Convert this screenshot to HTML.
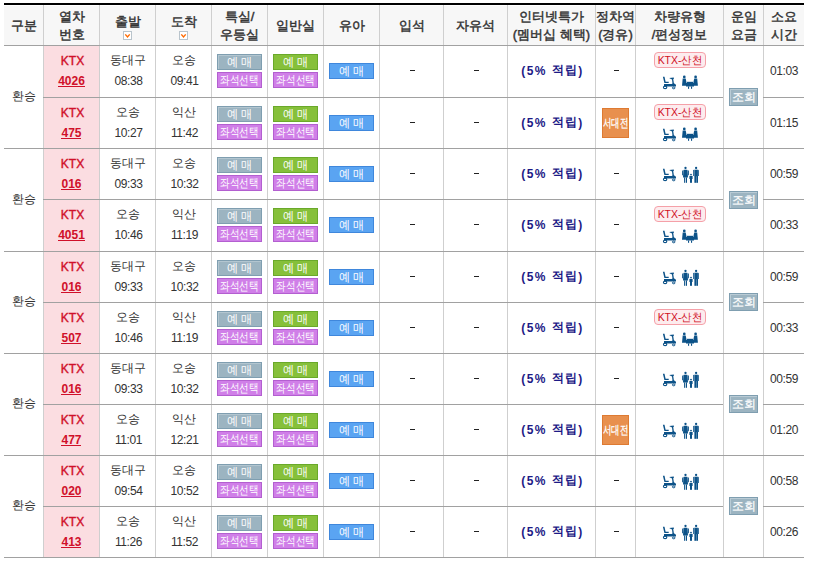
<!DOCTYPE html>
<html><head><meta charset="utf-8"><style>
*{margin:0;padding:0;box-sizing:border-box}
html,body{width:820px;height:566px;background:#fff;overflow:hidden}
body{font-family:"Liberation Sans",sans-serif;font-size:12px;color:#333;position:relative}
div,span{position:absolute}
.r{position:relative}
.t{text-align:center;white-space:nowrap;line-height:14px;height:14px}
.h{font-weight:normal;color:#333;font-size:13px;-webkit-text-stroke:0.45px #333}
.vl{width:1px;background:#cfcfcf}
.hl{height:1px;background:#a1a1a1}
.ktx{color:#d0102a;font-weight:normal;-webkit-text-stroke:0.4px #d0102a;letter-spacing:0px}
.num{color:#d0102a;font-weight:bold}
.ul{height:1px;background:#d0102a}
.tm{letter-spacing:-0.4px}
.b{width:45px;height:16px;border:1px solid}
.bt{left:-12px;right:-12px;top:0;color:#fff;font-size:12px;line-height:14px;text-align:center;white-space:nowrap}
.g{background:#9cb4c1;border-color:#7f9eb0;box-shadow:inset 1px 1px 0 #b3c6d0}
.gr{background:#86c03a;border-color:#6aa92a}
.pu{background:#d07fe8;border-color:#b35fd0}
.bl{background:#5aa4f2;border-color:#3f87dc}
.pt{color:#1c1a86;font-weight:bold;letter-spacing:1.4px}
.dash{width:5px;height:1px;background:#222}
.sc{width:52px;height:16px;border:1px solid #f5a0a8;background:#fdecee;border-radius:4px}
.sd{width:27px;height:30px;background:#e8904e;border:1px solid #de7a32}
.jh{width:29px;height:18px;background:#9cb4c1;border:1px solid #7f9eb0;box-shadow:inset 1px 1px 0 #b9cbd5}
</style></head><body>

<div style="left:4px;top:3px;width:800px;height:2px;background:#000"></div>
<div style="left:4px;top:6px;width:800px;height:39px;background:#f7f7f7"></div>
<div style="left:44px;top:46px;width:55px;height:511px;background:#fbdde1"></div>
<div class="vl" style="left:43px;top:5px;height:552px"></div>
<div class="vl" style="left:99px;top:5px;height:552px"></div>
<div class="vl" style="left:155px;top:5px;height:552px"></div>
<div class="vl" style="left:211px;top:5px;height:552px"></div>
<div class="vl" style="left:267px;top:5px;height:552px"></div>
<div class="vl" style="left:323px;top:5px;height:552px"></div>
<div class="vl" style="left:379px;top:5px;height:552px"></div>
<div class="vl" style="left:443px;top:5px;height:552px"></div>
<div class="vl" style="left:507px;top:5px;height:552px"></div>
<div class="vl" style="left:595px;top:5px;height:552px"></div>
<div class="vl" style="left:635px;top:5px;height:552px"></div>
<div class="vl" style="left:723px;top:5px;height:552px"></div>
<div class="vl" style="left:763px;top:5px;height:552px"></div>
<div class="hl" style="left:4px;top:45px;width:800px"></div>
<div class="hl" style="left:4px;top:557px;width:800px"></div>
<div class="hl" style="left:43px;top:97px;width:680px"></div>
<div class="hl" style="left:763px;top:97px;width:41px"></div>
<div class="hl" style="left:4px;top:148px;width:800px"></div>
<div class="hl" style="left:43px;top:199px;width:680px"></div>
<div class="hl" style="left:763px;top:199px;width:41px"></div>
<div class="hl" style="left:4px;top:251px;width:800px"></div>
<div class="hl" style="left:43px;top:302px;width:680px"></div>
<div class="hl" style="left:763px;top:302px;width:41px"></div>
<div class="hl" style="left:4px;top:353px;width:800px"></div>
<div class="hl" style="left:43px;top:404px;width:680px"></div>
<div class="hl" style="left:763px;top:404px;width:41px"></div>
<div class="hl" style="left:4px;top:455px;width:800px"></div>
<div class="hl" style="left:43px;top:506px;width:680px"></div>
<div class="hl" style="left:763px;top:506px;width:41px"></div>
<div class="t h" style="left:4px;top:19px;width:39px;">구분</div>
<div class="t h" style="left:44px;top:10px;width:55px;">열차</div>
<div class="t h" style="left:44px;top:28px;width:55px;">번호</div>
<div class="t h" style="left:100px;top:15px;width:55px;">출발</div>
<div style="left:123px;top:31px;width:9px;height:9px;line-height:0"><svg width="9" height="9" viewBox="0 0 9 9"><rect x="0.5" y="0.5" width="8" height="8" fill="#fff" stroke="#b9c4cc"/><path d="M2.3 3.4L4.5 6L6.7 3.4" fill="none" stroke="#ff6a00" stroke-width="1.4"/></svg></div>
<div class="t h" style="left:156px;top:15px;width:55px;">도착</div>
<div style="left:179px;top:31px;width:9px;height:9px;line-height:0"><svg width="9" height="9" viewBox="0 0 9 9"><rect x="0.5" y="0.5" width="8" height="8" fill="#fff" stroke="#b9c4cc"/><path d="M2.3 3.4L4.5 6L6.7 3.4" fill="none" stroke="#ff6a00" stroke-width="1.4"/></svg></div>
<div class="t h" style="left:212px;top:10px;width:55px;">특실/</div>
<div class="t h" style="left:212px;top:28px;width:55px;">우등실</div>
<div class="t h" style="left:268px;top:19px;width:55px;">일반실</div>
<div class="t h" style="left:324px;top:19px;width:55px;">유아</div>
<div class="t h" style="left:380px;top:19px;width:63px;">입석</div>
<div class="t h" style="left:444px;top:19px;width:63px;">자유석</div>
<div class="t h" style="left:508px;top:10px;width:87px;">인터넷특가</div>
<div class="t h" style="left:508px;top:28px;width:87px;">(멤버십 혜택)</div>
<div class="t h" style="left:596px;top:10px;width:39px;">정차역</div>
<div class="t h" style="left:596px;top:28px;width:39px;">(경유)</div>
<div class="t h" style="left:636px;top:10px;width:87px;">차량유형</div>
<div class="t h" style="left:636px;top:28px;width:87px;">/편성정보</div>
<div class="t h" style="left:724px;top:10px;width:39px;">운임</div>
<div class="t h" style="left:724px;top:28px;width:39px;">요금</div>
<div class="t h" style="left:764px;top:10px;width:40px;">소요</div>
<div class="t h" style="left:764px;top:28px;width:40px;">시간</div>
<div class="t " style="left:4px;top:89px;width:39px;">환승</div>
<div class="jh" style="left:729px;top:88px"><span class="bt" style="font-size:12px;line-height:17px;-webkit-text-stroke:0.2px #fff">조회</span></div>
<div class="t ktx" style="left:45px;top:54px;width:55px;">KTX</div>
<div class="t num" style="left:44px;top:74px;width:55px;">4026</div>
<div class="ul" style="left:58px;top:86px;width:27px"></div>
<div class="t " style="left:100px;top:53px;width:55px;">동대구</div>
<div class="t tm" style="left:101px;top:74px;width:55px;">08:38</div>
<div class="t " style="left:156px;top:53px;width:55px;">오송</div>
<div class="t tm" style="left:157px;top:74px;width:55px;">09:41</div>
<div class="b g" style="left:217px;top:54px"><span class="bt" style="transform:scaleX(0.93)">예 매</span></div>
<div class="b pu" style="left:217px;top:72px"><span class="bt" style="transform:scaleX(0.8)">좌석선택</span></div>
<div class="b gr" style="left:273px;top:54px"><span class="bt" style="transform:scaleX(0.93)">예 매</span></div>
<div class="b pu" style="left:273px;top:72px"><span class="bt" style="transform:scaleX(0.8)">좌석선택</span></div>
<div class="b bl" style="left:329px;top:63px"><span class="bt" style="transform:scaleX(0.93)">예 매</span></div>
<div class="dash" style="left:410px;top:70px"></div>
<div class="dash" style="left:474px;top:70px"></div>
<div class="t pt" style="left:509px;top:64px;width:87px;">(5% <span class="r" style="top:-1px">적립</span>)</div>
<div class="dash" style="left:614px;top:70px"></div>
<div class="sc" style="left:654px;top:52px"><span class="bt" style="color:#d00f1e;line-height:14px;font-size:11px;transform:scaleX(0.95)">KTX-산천</span></div>
<div style="left:660px;top:74px;width:20px;height:17px;line-height:0"><svg width="20" height="17" viewBox="0 0 20 17"><g fill="#0c5288"><path d="M2.9,2.8 L4.5,2.8 L5.6,7.8 L8.7,7.8 L8.7,9.1 L4.4,9.1 Z"/><path d="M4,10.1 H11.6 Q12.6,10.1 12.9,9.3 L14.3,9.4 Q15.9,9.8 16,11.2 V12.6 H4 Z"/><path d="M11.9,5 L13.2,5 L14,10 L12.6,10 Z"/><path d="M9.2,4 L13.8,3.4 L13.8,5.1 L11.4,5.3 Z"/></g><g fill="none" stroke="#0c5288"><ellipse cx="5.1" cy="13.4" rx="1.7" ry="1.25" stroke-width="1.1"/><ellipse cx="13.7" cy="13.9" rx="1.3" ry="0.9" stroke-width="1"/></g></svg></div>
<div style="left:680px;top:74px;width:20px;height:17px;line-height:0"><svg width="20" height="17" viewBox="0 0 20 17"><g fill="#0c5288"><circle cx="4.3" cy="2.9" r="1.35"/><circle cx="15.6" cy="2.9" r="1.35"/><path d="M2.7,4.6 H5.7 L6.6,9 V11.7 H2 Z"/><path d="M17.2,4.6 H14.2 L13.3,9 V11.7 H17.9 Z"/><path d="M7,7.8 H13 V9 H7 Z"/><path d="M6,9 H14 V12.5 H6 Z"/><rect x="8" y="12.5" width="1.1" height="2.3"/><rect x="11" y="12.5" width="1.1" height="2.3"/></g></svg></div>
<div class="t tm" style="left:764px;top:64px;width:40px;">01:03</div>
<div class="t ktx" style="left:45px;top:106px;width:55px;">KTX</div>
<div class="t num" style="left:44px;top:126px;width:55px;">475</div>
<div class="ul" style="left:61px;top:138px;width:20px"></div>
<div class="t " style="left:100px;top:105px;width:55px;">오송</div>
<div class="t tm" style="left:101px;top:126px;width:55px;">10:27</div>
<div class="t " style="left:156px;top:105px;width:55px;">익산</div>
<div class="t tm" style="left:157px;top:126px;width:55px;">11:42</div>
<div class="b g" style="left:217px;top:106px"><span class="bt" style="transform:scaleX(0.93)">예 매</span></div>
<div class="b pu" style="left:217px;top:124px"><span class="bt" style="transform:scaleX(0.8)">좌석선택</span></div>
<div class="b gr" style="left:273px;top:106px"><span class="bt" style="transform:scaleX(0.93)">예 매</span></div>
<div class="b pu" style="left:273px;top:124px"><span class="bt" style="transform:scaleX(0.8)">좌석선택</span></div>
<div class="b bl" style="left:329px;top:115px"><span class="bt" style="transform:scaleX(0.93)">예 매</span></div>
<div class="dash" style="left:410px;top:122px"></div>
<div class="dash" style="left:474px;top:122px"></div>
<div class="t pt" style="left:509px;top:116px;width:87px;">(5% <span class="r" style="top:-1px">적립</span>)</div>
<div class="sd" style="left:602px;top:108px"><span class="bt" style="font-size:12px;line-height:28px;transform:scaleX(0.7);-webkit-text-stroke:0.3px #fff">서대전</span></div>
<div class="sc" style="left:654px;top:104px"><span class="bt" style="color:#d00f1e;line-height:14px;font-size:11px;transform:scaleX(0.95)">KTX-산천</span></div>
<div style="left:660px;top:126px;width:20px;height:17px;line-height:0"><svg width="20" height="17" viewBox="0 0 20 17"><g fill="#0c5288"><path d="M2.9,2.8 L4.5,2.8 L5.6,7.8 L8.7,7.8 L8.7,9.1 L4.4,9.1 Z"/><path d="M4,10.1 H11.6 Q12.6,10.1 12.9,9.3 L14.3,9.4 Q15.9,9.8 16,11.2 V12.6 H4 Z"/><path d="M11.9,5 L13.2,5 L14,10 L12.6,10 Z"/><path d="M9.2,4 L13.8,3.4 L13.8,5.1 L11.4,5.3 Z"/></g><g fill="none" stroke="#0c5288"><ellipse cx="5.1" cy="13.4" rx="1.7" ry="1.25" stroke-width="1.1"/><ellipse cx="13.7" cy="13.9" rx="1.3" ry="0.9" stroke-width="1"/></g></svg></div>
<div style="left:680px;top:126px;width:20px;height:17px;line-height:0"><svg width="20" height="17" viewBox="0 0 20 17"><g fill="#0c5288"><circle cx="4.3" cy="2.9" r="1.35"/><circle cx="15.6" cy="2.9" r="1.35"/><path d="M2.7,4.6 H5.7 L6.6,9 V11.7 H2 Z"/><path d="M17.2,4.6 H14.2 L13.3,9 V11.7 H17.9 Z"/><path d="M7,7.8 H13 V9 H7 Z"/><path d="M6,9 H14 V12.5 H6 Z"/><rect x="8" y="12.5" width="1.1" height="2.3"/><rect x="11" y="12.5" width="1.1" height="2.3"/></g></svg></div>
<div class="t tm" style="left:764px;top:116px;width:40px;">01:15</div>
<div class="t " style="left:4px;top:192px;width:39px;">환승</div>
<div class="jh" style="left:729px;top:191px"><span class="bt" style="font-size:12px;line-height:17px;-webkit-text-stroke:0.2px #fff">조회</span></div>
<div class="t ktx" style="left:45px;top:157px;width:55px;">KTX</div>
<div class="t num" style="left:44px;top:177px;width:55px;">016</div>
<div class="ul" style="left:61px;top:189px;width:20px"></div>
<div class="t " style="left:100px;top:156px;width:55px;">동대구</div>
<div class="t tm" style="left:101px;top:177px;width:55px;">09:33</div>
<div class="t " style="left:156px;top:156px;width:55px;">오송</div>
<div class="t tm" style="left:157px;top:177px;width:55px;">10:32</div>
<div class="b g" style="left:217px;top:157px"><span class="bt" style="transform:scaleX(0.93)">예 매</span></div>
<div class="b pu" style="left:217px;top:175px"><span class="bt" style="transform:scaleX(0.8)">좌석선택</span></div>
<div class="b gr" style="left:273px;top:157px"><span class="bt" style="transform:scaleX(0.93)">예 매</span></div>
<div class="b pu" style="left:273px;top:175px"><span class="bt" style="transform:scaleX(0.8)">좌석선택</span></div>
<div class="b bl" style="left:329px;top:166px"><span class="bt" style="transform:scaleX(0.93)">예 매</span></div>
<div class="dash" style="left:410px;top:173px"></div>
<div class="dash" style="left:474px;top:173px"></div>
<div class="t pt" style="left:509px;top:167px;width:87px;">(5% <span class="r" style="top:-1px">적립</span>)</div>
<div class="dash" style="left:614px;top:173px"></div>
<div style="left:660px;top:166px;width:20px;height:17px;line-height:0"><svg width="20" height="17" viewBox="0 0 20 17"><g fill="#0c5288"><path d="M2.9,2.8 L4.5,2.8 L5.6,7.8 L8.7,7.8 L8.7,9.1 L4.4,9.1 Z"/><path d="M4,10.1 H11.6 Q12.6,10.1 12.9,9.3 L14.3,9.4 Q15.9,9.8 16,11.2 V12.6 H4 Z"/><path d="M11.9,5 L13.2,5 L14,10 L12.6,10 Z"/><path d="M9.2,4 L13.8,3.4 L13.8,5.1 L11.4,5.3 Z"/></g><g fill="none" stroke="#0c5288"><ellipse cx="5.1" cy="13.4" rx="1.7" ry="1.25" stroke-width="1.1"/><ellipse cx="13.7" cy="13.9" rx="1.3" ry="0.9" stroke-width="1"/></g></svg></div>
<div style="left:680px;top:165px;width:22px;height:20px;line-height:0"><svg width="22" height="20" viewBox="0 0 22 20"><g fill="#0c5288"><circle cx="5.5" cy="3" r="1.15"/><path d="M4,4.8 H7 Q7.6,4.8 7.6,5.6 L8,12.5 H3 L3.4,5.6 Q3.4,4.8 4,4.8 Z"/><path d="M2.2,6 Q2.4,5.2 3.1,5.2 L2.9,10.2 H2 Z"/><path d="M8.9,6 Q8.7,5.2 8,5.2 L8.2,10.2 H9.1 Z"/><rect x="4.1" y="12.4" width="1.1" height="5.4"/><rect x="5.9" y="12.4" width="1.1" height="5.4"/><circle cx="11" cy="9.6" r="0.9"/><rect x="9.4" y="10.9" width="3.2" height="3.2" rx="0.5"/><rect x="10" y="14" width="2" height="3.8"/><circle cx="16.1" cy="3" r="1.15"/><path d="M14.3,4.7 H17.9 V11.2 H14.3 Z"/><path d="M13.2,5.6 Q13.2,4.8 14,4.8 V11 H13.2 Z"/><path d="M19,5.6 Q19,4.8 18.2,4.8 V11 H19 Z"/><rect x="14.4" y="11" width="1.7" height="6.8"/><rect x="16.3" y="11" width="1.7" height="6.8"/></g></svg></div>
<div class="t tm" style="left:764px;top:167px;width:40px;">00:59</div>
<div class="t ktx" style="left:45px;top:208px;width:55px;">KTX</div>
<div class="t num" style="left:44px;top:228px;width:55px;">4051</div>
<div class="ul" style="left:58px;top:240px;width:27px"></div>
<div class="t " style="left:100px;top:207px;width:55px;">오송</div>
<div class="t tm" style="left:101px;top:228px;width:55px;">10:46</div>
<div class="t " style="left:156px;top:207px;width:55px;">익산</div>
<div class="t tm" style="left:157px;top:228px;width:55px;">11:19</div>
<div class="b g" style="left:217px;top:208px"><span class="bt" style="transform:scaleX(0.93)">예 매</span></div>
<div class="b pu" style="left:217px;top:226px"><span class="bt" style="transform:scaleX(0.8)">좌석선택</span></div>
<div class="b gr" style="left:273px;top:208px"><span class="bt" style="transform:scaleX(0.93)">예 매</span></div>
<div class="b pu" style="left:273px;top:226px"><span class="bt" style="transform:scaleX(0.8)">좌석선택</span></div>
<div class="b bl" style="left:329px;top:217px"><span class="bt" style="transform:scaleX(0.93)">예 매</span></div>
<div class="dash" style="left:410px;top:224px"></div>
<div class="dash" style="left:474px;top:224px"></div>
<div class="t pt" style="left:509px;top:218px;width:87px;">(5% <span class="r" style="top:-1px">적립</span>)</div>
<div class="dash" style="left:614px;top:224px"></div>
<div class="sc" style="left:654px;top:206px"><span class="bt" style="color:#d00f1e;line-height:14px;font-size:11px;transform:scaleX(0.95)">KTX-산천</span></div>
<div style="left:660px;top:228px;width:20px;height:17px;line-height:0"><svg width="20" height="17" viewBox="0 0 20 17"><g fill="#0c5288"><path d="M2.9,2.8 L4.5,2.8 L5.6,7.8 L8.7,7.8 L8.7,9.1 L4.4,9.1 Z"/><path d="M4,10.1 H11.6 Q12.6,10.1 12.9,9.3 L14.3,9.4 Q15.9,9.8 16,11.2 V12.6 H4 Z"/><path d="M11.9,5 L13.2,5 L14,10 L12.6,10 Z"/><path d="M9.2,4 L13.8,3.4 L13.8,5.1 L11.4,5.3 Z"/></g><g fill="none" stroke="#0c5288"><ellipse cx="5.1" cy="13.4" rx="1.7" ry="1.25" stroke-width="1.1"/><ellipse cx="13.7" cy="13.9" rx="1.3" ry="0.9" stroke-width="1"/></g></svg></div>
<div style="left:680px;top:228px;width:20px;height:17px;line-height:0"><svg width="20" height="17" viewBox="0 0 20 17"><g fill="#0c5288"><circle cx="4.3" cy="2.9" r="1.35"/><circle cx="15.6" cy="2.9" r="1.35"/><path d="M2.7,4.6 H5.7 L6.6,9 V11.7 H2 Z"/><path d="M17.2,4.6 H14.2 L13.3,9 V11.7 H17.9 Z"/><path d="M7,7.8 H13 V9 H7 Z"/><path d="M6,9 H14 V12.5 H6 Z"/><rect x="8" y="12.5" width="1.1" height="2.3"/><rect x="11" y="12.5" width="1.1" height="2.3"/></g></svg></div>
<div class="t tm" style="left:764px;top:218px;width:40px;">00:33</div>
<div class="t " style="left:4px;top:294px;width:39px;">환승</div>
<div class="jh" style="left:729px;top:293px"><span class="bt" style="font-size:12px;line-height:17px;-webkit-text-stroke:0.2px #fff">조회</span></div>
<div class="t ktx" style="left:45px;top:260px;width:55px;">KTX</div>
<div class="t num" style="left:44px;top:280px;width:55px;">016</div>
<div class="ul" style="left:61px;top:292px;width:20px"></div>
<div class="t " style="left:100px;top:259px;width:55px;">동대구</div>
<div class="t tm" style="left:101px;top:280px;width:55px;">09:33</div>
<div class="t " style="left:156px;top:259px;width:55px;">오송</div>
<div class="t tm" style="left:157px;top:280px;width:55px;">10:32</div>
<div class="b g" style="left:217px;top:260px"><span class="bt" style="transform:scaleX(0.93)">예 매</span></div>
<div class="b pu" style="left:217px;top:278px"><span class="bt" style="transform:scaleX(0.8)">좌석선택</span></div>
<div class="b gr" style="left:273px;top:260px"><span class="bt" style="transform:scaleX(0.93)">예 매</span></div>
<div class="b pu" style="left:273px;top:278px"><span class="bt" style="transform:scaleX(0.8)">좌석선택</span></div>
<div class="b bl" style="left:329px;top:269px"><span class="bt" style="transform:scaleX(0.93)">예 매</span></div>
<div class="dash" style="left:410px;top:276px"></div>
<div class="dash" style="left:474px;top:276px"></div>
<div class="t pt" style="left:509px;top:270px;width:87px;">(5% <span class="r" style="top:-1px">적립</span>)</div>
<div class="dash" style="left:614px;top:276px"></div>
<div style="left:660px;top:269px;width:20px;height:17px;line-height:0"><svg width="20" height="17" viewBox="0 0 20 17"><g fill="#0c5288"><path d="M2.9,2.8 L4.5,2.8 L5.6,7.8 L8.7,7.8 L8.7,9.1 L4.4,9.1 Z"/><path d="M4,10.1 H11.6 Q12.6,10.1 12.9,9.3 L14.3,9.4 Q15.9,9.8 16,11.2 V12.6 H4 Z"/><path d="M11.9,5 L13.2,5 L14,10 L12.6,10 Z"/><path d="M9.2,4 L13.8,3.4 L13.8,5.1 L11.4,5.3 Z"/></g><g fill="none" stroke="#0c5288"><ellipse cx="5.1" cy="13.4" rx="1.7" ry="1.25" stroke-width="1.1"/><ellipse cx="13.7" cy="13.9" rx="1.3" ry="0.9" stroke-width="1"/></g></svg></div>
<div style="left:680px;top:268px;width:22px;height:20px;line-height:0"><svg width="22" height="20" viewBox="0 0 22 20"><g fill="#0c5288"><circle cx="5.5" cy="3" r="1.15"/><path d="M4,4.8 H7 Q7.6,4.8 7.6,5.6 L8,12.5 H3 L3.4,5.6 Q3.4,4.8 4,4.8 Z"/><path d="M2.2,6 Q2.4,5.2 3.1,5.2 L2.9,10.2 H2 Z"/><path d="M8.9,6 Q8.7,5.2 8,5.2 L8.2,10.2 H9.1 Z"/><rect x="4.1" y="12.4" width="1.1" height="5.4"/><rect x="5.9" y="12.4" width="1.1" height="5.4"/><circle cx="11" cy="9.6" r="0.9"/><rect x="9.4" y="10.9" width="3.2" height="3.2" rx="0.5"/><rect x="10" y="14" width="2" height="3.8"/><circle cx="16.1" cy="3" r="1.15"/><path d="M14.3,4.7 H17.9 V11.2 H14.3 Z"/><path d="M13.2,5.6 Q13.2,4.8 14,4.8 V11 H13.2 Z"/><path d="M19,5.6 Q19,4.8 18.2,4.8 V11 H19 Z"/><rect x="14.4" y="11" width="1.7" height="6.8"/><rect x="16.3" y="11" width="1.7" height="6.8"/></g></svg></div>
<div class="t tm" style="left:764px;top:270px;width:40px;">00:59</div>
<div class="t ktx" style="left:45px;top:311px;width:55px;">KTX</div>
<div class="t num" style="left:44px;top:331px;width:55px;">507</div>
<div class="ul" style="left:61px;top:343px;width:20px"></div>
<div class="t " style="left:100px;top:310px;width:55px;">오송</div>
<div class="t tm" style="left:101px;top:331px;width:55px;">10:46</div>
<div class="t " style="left:156px;top:310px;width:55px;">익산</div>
<div class="t tm" style="left:157px;top:331px;width:55px;">11:19</div>
<div class="b g" style="left:217px;top:311px"><span class="bt" style="transform:scaleX(0.93)">예 매</span></div>
<div class="b pu" style="left:217px;top:329px"><span class="bt" style="transform:scaleX(0.8)">좌석선택</span></div>
<div class="b gr" style="left:273px;top:311px"><span class="bt" style="transform:scaleX(0.93)">예 매</span></div>
<div class="b pu" style="left:273px;top:329px"><span class="bt" style="transform:scaleX(0.8)">좌석선택</span></div>
<div class="b bl" style="left:329px;top:320px"><span class="bt" style="transform:scaleX(0.93)">예 매</span></div>
<div class="dash" style="left:410px;top:327px"></div>
<div class="dash" style="left:474px;top:327px"></div>
<div class="t pt" style="left:509px;top:321px;width:87px;">(5% <span class="r" style="top:-1px">적립</span>)</div>
<div class="dash" style="left:614px;top:327px"></div>
<div class="sc" style="left:654px;top:309px"><span class="bt" style="color:#d00f1e;line-height:14px;font-size:11px;transform:scaleX(0.95)">KTX-산천</span></div>
<div style="left:660px;top:331px;width:20px;height:17px;line-height:0"><svg width="20" height="17" viewBox="0 0 20 17"><g fill="#0c5288"><path d="M2.9,2.8 L4.5,2.8 L5.6,7.8 L8.7,7.8 L8.7,9.1 L4.4,9.1 Z"/><path d="M4,10.1 H11.6 Q12.6,10.1 12.9,9.3 L14.3,9.4 Q15.9,9.8 16,11.2 V12.6 H4 Z"/><path d="M11.9,5 L13.2,5 L14,10 L12.6,10 Z"/><path d="M9.2,4 L13.8,3.4 L13.8,5.1 L11.4,5.3 Z"/></g><g fill="none" stroke="#0c5288"><ellipse cx="5.1" cy="13.4" rx="1.7" ry="1.25" stroke-width="1.1"/><ellipse cx="13.7" cy="13.9" rx="1.3" ry="0.9" stroke-width="1"/></g></svg></div>
<div style="left:680px;top:331px;width:20px;height:17px;line-height:0"><svg width="20" height="17" viewBox="0 0 20 17"><g fill="#0c5288"><circle cx="4.3" cy="2.9" r="1.35"/><circle cx="15.6" cy="2.9" r="1.35"/><path d="M2.7,4.6 H5.7 L6.6,9 V11.7 H2 Z"/><path d="M17.2,4.6 H14.2 L13.3,9 V11.7 H17.9 Z"/><path d="M7,7.8 H13 V9 H7 Z"/><path d="M6,9 H14 V12.5 H6 Z"/><rect x="8" y="12.5" width="1.1" height="2.3"/><rect x="11" y="12.5" width="1.1" height="2.3"/></g></svg></div>
<div class="t tm" style="left:764px;top:321px;width:40px;">00:33</div>
<div class="t " style="left:4px;top:396px;width:39px;">환승</div>
<div class="jh" style="left:729px;top:395px"><span class="bt" style="font-size:12px;line-height:17px;-webkit-text-stroke:0.2px #fff">조회</span></div>
<div class="t ktx" style="left:45px;top:362px;width:55px;">KTX</div>
<div class="t num" style="left:44px;top:382px;width:55px;">016</div>
<div class="ul" style="left:61px;top:394px;width:20px"></div>
<div class="t " style="left:100px;top:361px;width:55px;">동대구</div>
<div class="t tm" style="left:101px;top:382px;width:55px;">09:33</div>
<div class="t " style="left:156px;top:361px;width:55px;">오송</div>
<div class="t tm" style="left:157px;top:382px;width:55px;">10:32</div>
<div class="b g" style="left:217px;top:362px"><span class="bt" style="transform:scaleX(0.93)">예 매</span></div>
<div class="b pu" style="left:217px;top:380px"><span class="bt" style="transform:scaleX(0.8)">좌석선택</span></div>
<div class="b gr" style="left:273px;top:362px"><span class="bt" style="transform:scaleX(0.93)">예 매</span></div>
<div class="b pu" style="left:273px;top:380px"><span class="bt" style="transform:scaleX(0.8)">좌석선택</span></div>
<div class="b bl" style="left:329px;top:371px"><span class="bt" style="transform:scaleX(0.93)">예 매</span></div>
<div class="dash" style="left:410px;top:378px"></div>
<div class="dash" style="left:474px;top:378px"></div>
<div class="t pt" style="left:509px;top:372px;width:87px;">(5% <span class="r" style="top:-1px">적립</span>)</div>
<div class="dash" style="left:614px;top:378px"></div>
<div style="left:660px;top:371px;width:20px;height:17px;line-height:0"><svg width="20" height="17" viewBox="0 0 20 17"><g fill="#0c5288"><path d="M2.9,2.8 L4.5,2.8 L5.6,7.8 L8.7,7.8 L8.7,9.1 L4.4,9.1 Z"/><path d="M4,10.1 H11.6 Q12.6,10.1 12.9,9.3 L14.3,9.4 Q15.9,9.8 16,11.2 V12.6 H4 Z"/><path d="M11.9,5 L13.2,5 L14,10 L12.6,10 Z"/><path d="M9.2,4 L13.8,3.4 L13.8,5.1 L11.4,5.3 Z"/></g><g fill="none" stroke="#0c5288"><ellipse cx="5.1" cy="13.4" rx="1.7" ry="1.25" stroke-width="1.1"/><ellipse cx="13.7" cy="13.9" rx="1.3" ry="0.9" stroke-width="1"/></g></svg></div>
<div style="left:680px;top:370px;width:22px;height:20px;line-height:0"><svg width="22" height="20" viewBox="0 0 22 20"><g fill="#0c5288"><circle cx="5.5" cy="3" r="1.15"/><path d="M4,4.8 H7 Q7.6,4.8 7.6,5.6 L8,12.5 H3 L3.4,5.6 Q3.4,4.8 4,4.8 Z"/><path d="M2.2,6 Q2.4,5.2 3.1,5.2 L2.9,10.2 H2 Z"/><path d="M8.9,6 Q8.7,5.2 8,5.2 L8.2,10.2 H9.1 Z"/><rect x="4.1" y="12.4" width="1.1" height="5.4"/><rect x="5.9" y="12.4" width="1.1" height="5.4"/><circle cx="11" cy="9.6" r="0.9"/><rect x="9.4" y="10.9" width="3.2" height="3.2" rx="0.5"/><rect x="10" y="14" width="2" height="3.8"/><circle cx="16.1" cy="3" r="1.15"/><path d="M14.3,4.7 H17.9 V11.2 H14.3 Z"/><path d="M13.2,5.6 Q13.2,4.8 14,4.8 V11 H13.2 Z"/><path d="M19,5.6 Q19,4.8 18.2,4.8 V11 H19 Z"/><rect x="14.4" y="11" width="1.7" height="6.8"/><rect x="16.3" y="11" width="1.7" height="6.8"/></g></svg></div>
<div class="t tm" style="left:764px;top:372px;width:40px;">00:59</div>
<div class="t ktx" style="left:45px;top:413px;width:55px;">KTX</div>
<div class="t num" style="left:44px;top:433px;width:55px;">477</div>
<div class="ul" style="left:61px;top:445px;width:20px"></div>
<div class="t " style="left:100px;top:412px;width:55px;">오송</div>
<div class="t tm" style="left:101px;top:433px;width:55px;">11:01</div>
<div class="t " style="left:156px;top:412px;width:55px;">익산</div>
<div class="t tm" style="left:157px;top:433px;width:55px;">12:21</div>
<div class="b g" style="left:217px;top:413px"><span class="bt" style="transform:scaleX(0.93)">예 매</span></div>
<div class="b pu" style="left:217px;top:431px"><span class="bt" style="transform:scaleX(0.8)">좌석선택</span></div>
<div class="b gr" style="left:273px;top:413px"><span class="bt" style="transform:scaleX(0.93)">예 매</span></div>
<div class="b pu" style="left:273px;top:431px"><span class="bt" style="transform:scaleX(0.8)">좌석선택</span></div>
<div class="b bl" style="left:329px;top:422px"><span class="bt" style="transform:scaleX(0.93)">예 매</span></div>
<div class="dash" style="left:410px;top:429px"></div>
<div class="dash" style="left:474px;top:429px"></div>
<div class="t pt" style="left:509px;top:423px;width:87px;">(5% <span class="r" style="top:-1px">적립</span>)</div>
<div class="sd" style="left:602px;top:415px"><span class="bt" style="font-size:12px;line-height:28px;transform:scaleX(0.7);-webkit-text-stroke:0.3px #fff">서대전</span></div>
<div style="left:660px;top:422px;width:20px;height:17px;line-height:0"><svg width="20" height="17" viewBox="0 0 20 17"><g fill="#0c5288"><path d="M2.9,2.8 L4.5,2.8 L5.6,7.8 L8.7,7.8 L8.7,9.1 L4.4,9.1 Z"/><path d="M4,10.1 H11.6 Q12.6,10.1 12.9,9.3 L14.3,9.4 Q15.9,9.8 16,11.2 V12.6 H4 Z"/><path d="M11.9,5 L13.2,5 L14,10 L12.6,10 Z"/><path d="M9.2,4 L13.8,3.4 L13.8,5.1 L11.4,5.3 Z"/></g><g fill="none" stroke="#0c5288"><ellipse cx="5.1" cy="13.4" rx="1.7" ry="1.25" stroke-width="1.1"/><ellipse cx="13.7" cy="13.9" rx="1.3" ry="0.9" stroke-width="1"/></g></svg></div>
<div style="left:680px;top:421px;width:22px;height:20px;line-height:0"><svg width="22" height="20" viewBox="0 0 22 20"><g fill="#0c5288"><circle cx="5.5" cy="3" r="1.15"/><path d="M4,4.8 H7 Q7.6,4.8 7.6,5.6 L8,12.5 H3 L3.4,5.6 Q3.4,4.8 4,4.8 Z"/><path d="M2.2,6 Q2.4,5.2 3.1,5.2 L2.9,10.2 H2 Z"/><path d="M8.9,6 Q8.7,5.2 8,5.2 L8.2,10.2 H9.1 Z"/><rect x="4.1" y="12.4" width="1.1" height="5.4"/><rect x="5.9" y="12.4" width="1.1" height="5.4"/><circle cx="11" cy="9.6" r="0.9"/><rect x="9.4" y="10.9" width="3.2" height="3.2" rx="0.5"/><rect x="10" y="14" width="2" height="3.8"/><circle cx="16.1" cy="3" r="1.15"/><path d="M14.3,4.7 H17.9 V11.2 H14.3 Z"/><path d="M13.2,5.6 Q13.2,4.8 14,4.8 V11 H13.2 Z"/><path d="M19,5.6 Q19,4.8 18.2,4.8 V11 H19 Z"/><rect x="14.4" y="11" width="1.7" height="6.8"/><rect x="16.3" y="11" width="1.7" height="6.8"/></g></svg></div>
<div class="t tm" style="left:764px;top:423px;width:40px;">01:20</div>
<div class="t " style="left:4px;top:498px;width:39px;">환승</div>
<div class="jh" style="left:729px;top:497px"><span class="bt" style="font-size:12px;line-height:17px;-webkit-text-stroke:0.2px #fff">조회</span></div>
<div class="t ktx" style="left:45px;top:464px;width:55px;">KTX</div>
<div class="t num" style="left:44px;top:484px;width:55px;">020</div>
<div class="ul" style="left:61px;top:496px;width:20px"></div>
<div class="t " style="left:100px;top:463px;width:55px;">동대구</div>
<div class="t tm" style="left:101px;top:484px;width:55px;">09:54</div>
<div class="t " style="left:156px;top:463px;width:55px;">오송</div>
<div class="t tm" style="left:157px;top:484px;width:55px;">10:52</div>
<div class="b g" style="left:217px;top:464px"><span class="bt" style="transform:scaleX(0.93)">예 매</span></div>
<div class="b pu" style="left:217px;top:482px"><span class="bt" style="transform:scaleX(0.8)">좌석선택</span></div>
<div class="b gr" style="left:273px;top:464px"><span class="bt" style="transform:scaleX(0.93)">예 매</span></div>
<div class="b pu" style="left:273px;top:482px"><span class="bt" style="transform:scaleX(0.8)">좌석선택</span></div>
<div class="b bl" style="left:329px;top:473px"><span class="bt" style="transform:scaleX(0.93)">예 매</span></div>
<div class="dash" style="left:410px;top:480px"></div>
<div class="dash" style="left:474px;top:480px"></div>
<div class="t pt" style="left:509px;top:474px;width:87px;">(5% <span class="r" style="top:-1px">적립</span>)</div>
<div class="dash" style="left:614px;top:480px"></div>
<div style="left:660px;top:473px;width:20px;height:17px;line-height:0"><svg width="20" height="17" viewBox="0 0 20 17"><g fill="#0c5288"><path d="M2.9,2.8 L4.5,2.8 L5.6,7.8 L8.7,7.8 L8.7,9.1 L4.4,9.1 Z"/><path d="M4,10.1 H11.6 Q12.6,10.1 12.9,9.3 L14.3,9.4 Q15.9,9.8 16,11.2 V12.6 H4 Z"/><path d="M11.9,5 L13.2,5 L14,10 L12.6,10 Z"/><path d="M9.2,4 L13.8,3.4 L13.8,5.1 L11.4,5.3 Z"/></g><g fill="none" stroke="#0c5288"><ellipse cx="5.1" cy="13.4" rx="1.7" ry="1.25" stroke-width="1.1"/><ellipse cx="13.7" cy="13.9" rx="1.3" ry="0.9" stroke-width="1"/></g></svg></div>
<div style="left:680px;top:472px;width:22px;height:20px;line-height:0"><svg width="22" height="20" viewBox="0 0 22 20"><g fill="#0c5288"><circle cx="5.5" cy="3" r="1.15"/><path d="M4,4.8 H7 Q7.6,4.8 7.6,5.6 L8,12.5 H3 L3.4,5.6 Q3.4,4.8 4,4.8 Z"/><path d="M2.2,6 Q2.4,5.2 3.1,5.2 L2.9,10.2 H2 Z"/><path d="M8.9,6 Q8.7,5.2 8,5.2 L8.2,10.2 H9.1 Z"/><rect x="4.1" y="12.4" width="1.1" height="5.4"/><rect x="5.9" y="12.4" width="1.1" height="5.4"/><circle cx="11" cy="9.6" r="0.9"/><rect x="9.4" y="10.9" width="3.2" height="3.2" rx="0.5"/><rect x="10" y="14" width="2" height="3.8"/><circle cx="16.1" cy="3" r="1.15"/><path d="M14.3,4.7 H17.9 V11.2 H14.3 Z"/><path d="M13.2,5.6 Q13.2,4.8 14,4.8 V11 H13.2 Z"/><path d="M19,5.6 Q19,4.8 18.2,4.8 V11 H19 Z"/><rect x="14.4" y="11" width="1.7" height="6.8"/><rect x="16.3" y="11" width="1.7" height="6.8"/></g></svg></div>
<div class="t tm" style="left:764px;top:474px;width:40px;">00:58</div>
<div class="t ktx" style="left:45px;top:515px;width:55px;">KTX</div>
<div class="t num" style="left:44px;top:535px;width:55px;">413</div>
<div class="ul" style="left:61px;top:547px;width:20px"></div>
<div class="t " style="left:100px;top:514px;width:55px;">오송</div>
<div class="t tm" style="left:101px;top:535px;width:55px;">11:26</div>
<div class="t " style="left:156px;top:514px;width:55px;">익산</div>
<div class="t tm" style="left:157px;top:535px;width:55px;">11:52</div>
<div class="b g" style="left:217px;top:515px"><span class="bt" style="transform:scaleX(0.93)">예 매</span></div>
<div class="b pu" style="left:217px;top:533px"><span class="bt" style="transform:scaleX(0.8)">좌석선택</span></div>
<div class="b gr" style="left:273px;top:515px"><span class="bt" style="transform:scaleX(0.93)">예 매</span></div>
<div class="b pu" style="left:273px;top:533px"><span class="bt" style="transform:scaleX(0.8)">좌석선택</span></div>
<div class="b bl" style="left:329px;top:524px"><span class="bt" style="transform:scaleX(0.93)">예 매</span></div>
<div class="dash" style="left:410px;top:531px"></div>
<div class="dash" style="left:474px;top:531px"></div>
<div class="t pt" style="left:509px;top:525px;width:87px;">(5% <span class="r" style="top:-1px">적립</span>)</div>
<div class="dash" style="left:614px;top:531px"></div>
<div style="left:660px;top:524px;width:20px;height:17px;line-height:0"><svg width="20" height="17" viewBox="0 0 20 17"><g fill="#0c5288"><path d="M2.9,2.8 L4.5,2.8 L5.6,7.8 L8.7,7.8 L8.7,9.1 L4.4,9.1 Z"/><path d="M4,10.1 H11.6 Q12.6,10.1 12.9,9.3 L14.3,9.4 Q15.9,9.8 16,11.2 V12.6 H4 Z"/><path d="M11.9,5 L13.2,5 L14,10 L12.6,10 Z"/><path d="M9.2,4 L13.8,3.4 L13.8,5.1 L11.4,5.3 Z"/></g><g fill="none" stroke="#0c5288"><ellipse cx="5.1" cy="13.4" rx="1.7" ry="1.25" stroke-width="1.1"/><ellipse cx="13.7" cy="13.9" rx="1.3" ry="0.9" stroke-width="1"/></g></svg></div>
<div style="left:680px;top:523px;width:22px;height:20px;line-height:0"><svg width="22" height="20" viewBox="0 0 22 20"><g fill="#0c5288"><circle cx="5.5" cy="3" r="1.15"/><path d="M4,4.8 H7 Q7.6,4.8 7.6,5.6 L8,12.5 H3 L3.4,5.6 Q3.4,4.8 4,4.8 Z"/><path d="M2.2,6 Q2.4,5.2 3.1,5.2 L2.9,10.2 H2 Z"/><path d="M8.9,6 Q8.7,5.2 8,5.2 L8.2,10.2 H9.1 Z"/><rect x="4.1" y="12.4" width="1.1" height="5.4"/><rect x="5.9" y="12.4" width="1.1" height="5.4"/><circle cx="11" cy="9.6" r="0.9"/><rect x="9.4" y="10.9" width="3.2" height="3.2" rx="0.5"/><rect x="10" y="14" width="2" height="3.8"/><circle cx="16.1" cy="3" r="1.15"/><path d="M14.3,4.7 H17.9 V11.2 H14.3 Z"/><path d="M13.2,5.6 Q13.2,4.8 14,4.8 V11 H13.2 Z"/><path d="M19,5.6 Q19,4.8 18.2,4.8 V11 H19 Z"/><rect x="14.4" y="11" width="1.7" height="6.8"/><rect x="16.3" y="11" width="1.7" height="6.8"/></g></svg></div>
<div class="t tm" style="left:764px;top:525px;width:40px;">00:26</div>
</body></html>
